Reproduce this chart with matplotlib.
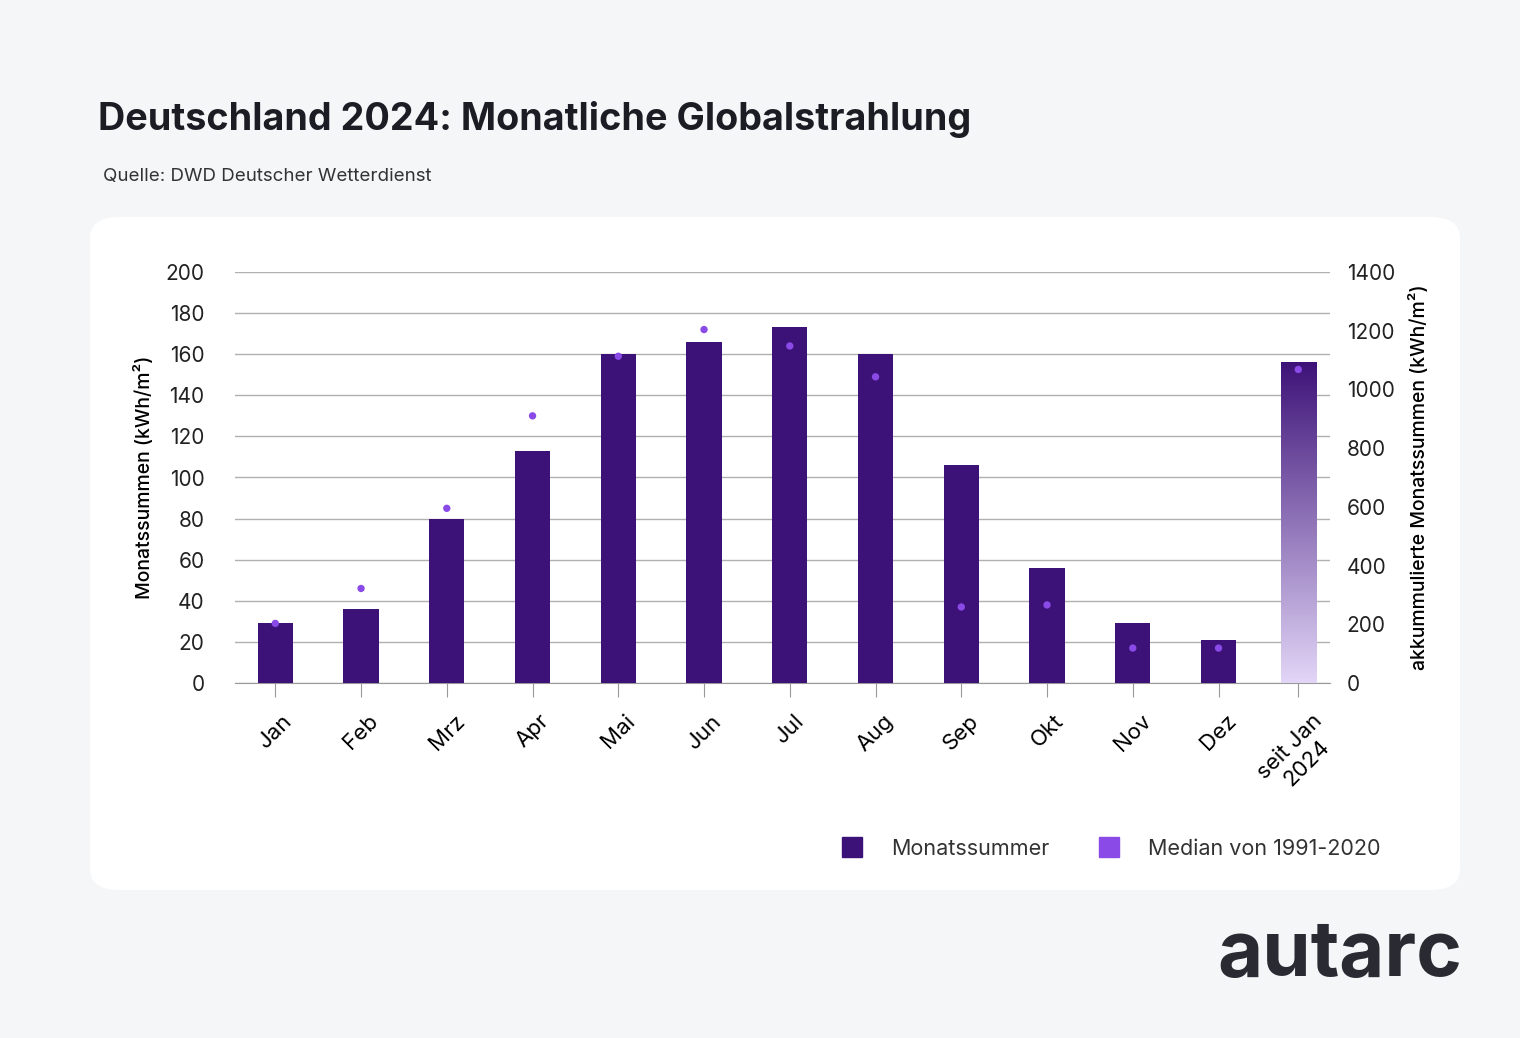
import matplotlib
matplotlib.use("Agg")
import matplotlib.pyplot as plt
import numpy as np
from matplotlib.patches import FancyBboxPatch, Rectangle
from matplotlib.lines import Line2D
from matplotlib.colors import LinearSegmentedColormap

plt.rcParams['font.family'] = ['Inter', 'DejaVu Sans']

months = ["Jan", "Feb", "Mrz", "Apr", "Mai", "Jun", "Jul", "Aug", "Sep", "Okt", "Nov", "Dez"]
cum_label = "seit Jan\n2024"
monthly = [29, 36, 80, 113, 160, 166, 173, 160, 106, 56, 29, 21]
median = [29, 46, 85, 130, 159, 172, 164, 149, 37, 38, 17, 17]
cum_total = 1095
cum_median = 1068

W, H = 1520, 1038
fig = plt.figure(figsize=(W/100, H/100), dpi=100)
fig.patch.set_facecolor("#f5f6f8")
fig.patches.append(FancyBboxPatch((90/W, 1-890/H), 1370/W, 673/H,
    boxstyle="round,pad=0,rounding_size=0.02", transform=fig.transFigure,
    facecolor="white", edgecolor="none", zorder=-10))

fig.text(98/W, 1-120/H, "Deutschland 2024: Monatliche Globalstrahlung", fontsize=27.2,
         fontweight="bold", color="#1c1c24", va="center")
fig.text(103/W, 1-177/H, "Quelle: DWD Deutscher Wetterdienst", fontsize=13.5, color="#333", va="center")
fig.text(1462/W, 1-955/H, "autarc", fontsize=56, fontweight="bold", color="#2a2a33",
         ha="right", va="center")

XLIM = (-0.47, 12.3)
ax = fig.add_axes([235/W, 1-683/H, 1095/W, 411/H])
ax.set_facecolor("none")
x = np.arange(12)
purple = "#3d1278"
dotc = "#8a4ae8"
ax.bar(x, monthly, width=0.41, color=purple, zorder=3)
ax.scatter(x, median, s=28, color=dotc, zorder=4, edgecolors="none")
ax.set_ylim(0, 200)
ax.set_xlim(*XLIM)
ax.set_yticks(range(0, 201, 20))
ax.grid(axis="y", color="#b0b0b0", linewidth=1, zorder=0)
ax.set_axisbelow(True)
for s in ["top", "right", "left"]:
    ax.spines[s].set_visible(False)
ax.spines["bottom"].set_color("#999")
ax.tick_params(axis="y", length=0, labelsize=15, pad=22, labelcolor="#222")
xc = 11.93
ax.set_xticks(list(x) + [xc])
ax.set_xticklabels(months + [cum_label], rotation=45, ha="center", va="top", fontsize=16)
ax.tick_params(axis="x", length=10, color="#999", labelsize=16, pad=10)
ax.set_ylabel("Monatssummen (kWh/m²)", fontsize=14, labelpad=8, fontweight="medium")

ax2 = ax.twinx()
for s in ax2.spines.values():
    s.set_visible(False)
ax2.tick_params(axis="y", length=0, labelsize=15, pad=12, labelcolor="#222")
ax2.set_ylabel("akkummulierte Monatssummen (kWh/m²)", fontsize=14, labelpad=10, fontweight="medium")

bw = 0.41
grad = np.linspace(0, 1, 256).reshape(-1, 1)
cmap = LinearSegmentedColormap.from_list("g", ["#e2d6f7", "#3d1278"])
im = ax2.imshow(grad, extent=[xc-bw/2, xc+bw/2, 0, cum_total], origin="lower",
                aspect="auto", cmap=cmap, zorder=3)
clip = Rectangle((xc-bw/2, 0), bw, cum_total, transform=ax2.transData, facecolor="none", edgecolor="none")
ax2.add_patch(clip)
im.set_clip_path(clip)
ax2.scatter([xc], [cum_median], s=28, color=dotc, zorder=4, edgecolors="none")
ax2.set_xlim(*XLIM)
ax2.set_ylim(0, 1400)
ax2.set_yticks(range(0, 1401, 200))

handles = [Line2D([], [], marker="s", linestyle="none", markersize=15, color=purple),
           Line2D([], [], marker="s", linestyle="none", markersize=15, color=dotc)]
fig.legend(handles, ["Monatssummer", "Median von 1991-2020"], loc="center right",
           bbox_to_anchor=(1400/W, 1-849/H), ncol=2, frameon=False, fontsize=15.5,
           handletextpad=0.8, columnspacing=1.8, labelcolor="#333")

fig.savefig("out.png", dpi=100, facecolor=fig.get_facecolor())
